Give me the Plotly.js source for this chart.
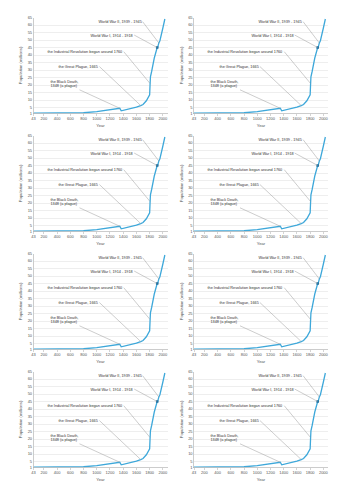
<!DOCTYPE html>
<html>
<head>
<meta charset="utf-8">
<script src="https://cdn.plot.ly/plotly-3.0.1.min.js"></script>
<style>html,body{margin:0;padding:0;background:#fff;}#chart{width:354px;height:500px;}</style>
</head>
<body>
<div id="chart"></div>
<script>
// Data
const years = [43, 400, 800, 1000, 1200, 1300, 1348, 1370, 1500, 1600, 1665, 1700, 1750, 1780, 1800, 1806, 1812, 1830, 1870, 1914, 1918, 1939, 1945, 1955, 2000, 2030];
const population = [1.3, 1.4, 1.5, 2.2, 3.4, 4.1, 4.5, 2.8, 4.0, 5.2, 6.3, 7.0, 9.5, 11.5, 13.5, 20, 25.5, 29, 38, 45, 44.6, 48, 48.4, 49.5, 58, 64];
const markerYears = [1914];
const markerValues = [45];
const xTickVals = [43, 200, 400, 600, 800, 1000, 1200, 1400, 1600, 1800, 2000];
const yTickVals = [1, 5, 10, 15, 20, 25, 30, 35, 40, 45, 50, 55, 60, 65];
const noteTexts = ["World War II, 1939 - 1945", "World War I, 1914 - 1918", "the Industrial Revolution began around 1760", "the Great Plague, 1665", "the Black Death,<br>1348 (a plague)"];
const notePointYears = [1939, 1914, 1806, 1665, 1348];
const notePointValues = [48, 45, 21, 6.3, 4.5];
const noteTextYears = [1694, 1566, 1408, 1040, 739];
const noteTextValues = [62.2, 53.3, 42.2, 32.3, 16.8];

const W = 354, H = 500;
const traces = [];
const layout = {
  width: W, height: H,
  margin: {l: 0, r: 0, t: 0, b: 0},
  paper_bgcolor: '#fff', plot_bgcolor: '#fff',
  showlegend: false,
  font: {family: 'Liberation Sans, Arial, sans-serif', color: '#555', size: 4},
  annotations: []
};
const FONT = 'Liberation Sans, Arial, sans-serif';
for (let i = 0; i < 8; i++) {
  const col = i % 2, row = Math.floor(i / 2);
  const sfx = i === 0 ? '' : String(i + 1);
  const xa = 'x' + sfx, ya = 'y' + sfx;
  const xd = col === 0 ? [33.5 / W, 167.5 / W] : [194 / W, 328 / W];
  const top = 17.5 + 118 * row, bot = 113.5 + 118 * row;
  const yd = [1 - bot / H, 1 - top / H];
  traces.push({
    x: years, y: population, type: 'scatter', mode: 'lines',
    line: {color: '#3ea8da', width: 1.3},
    xaxis: xa, yaxis: ya, hoverinfo: 'skip'
  });
  traces.push({
    x: markerYears, y: markerValues, type: 'scatter', mode: 'markers',
    marker: {color: '#1f6f9e', size: 2.5, symbol: 'square'},
    xaxis: xa, yaxis: ya, hoverinfo: 'skip'
  });
  layout['xaxis' + sfx] = {
    domain: xd, anchor: ya, range: [43, 2070],
    tickvals: xTickVals, ticktext: xTickVals.map(String),
    tickfont: {size: 4, color: '#555', family: FONT},
    ticks: 'outside', ticklen: 1.5, tickcolor: '#aaa', tickwidth: 0.5,
    showline: true, linecolor: '#aaa', linewidth: 0.6,
    showgrid: false, zeroline: false, fixedrange: true,
    title: {text: 'Year', font: {size: 4.2, color: '#555', family: FONT}, standoff: 3}
  };
  layout['yaxis' + sfx] = {
    domain: yd, anchor: xa, range: [1, 65],
    tickvals: yTickVals, ticktext: yTickVals.map(String),
    tickfont: {size: 4, color: '#555', family: FONT},
    ticks: '', showline: true, linecolor: '#aaa', linewidth: 0.6,
    showgrid: true, gridcolor: '#dedede', gridwidth: 0.5,
    zeroline: false, fixedrange: true,
    title: {text: 'Population (millions)', font: {size: 4.2, color: '#555', family: FONT}, standoff: 4}
  };
  for (let k = 0; k < noteTexts.length; k++) {
    layout.annotations.push({
      xref: xa, yref: ya, axref: xa, ayref: ya,
      x: notePointYears[k], y: notePointValues[k],
      ax: noteTextYears[k], ay: noteTextValues[k],
      text: noteTexts[k], showarrow: true, arrowhead: 0, arrowwidth: 0.5,
      arrowcolor: '#9a9a9a', xanchor: 'right', yanchor: k === 4 ? 'bottom' : 'middle',
      align: 'left', borderpad: 0.5,
      font: {size: 3.8, color: '#333', family: FONT}
    });
  }
}
Plotly.newPlot('chart', traces, layout, {staticPlot: true, displayModeBar: false});
</script>
</body>
</html>
